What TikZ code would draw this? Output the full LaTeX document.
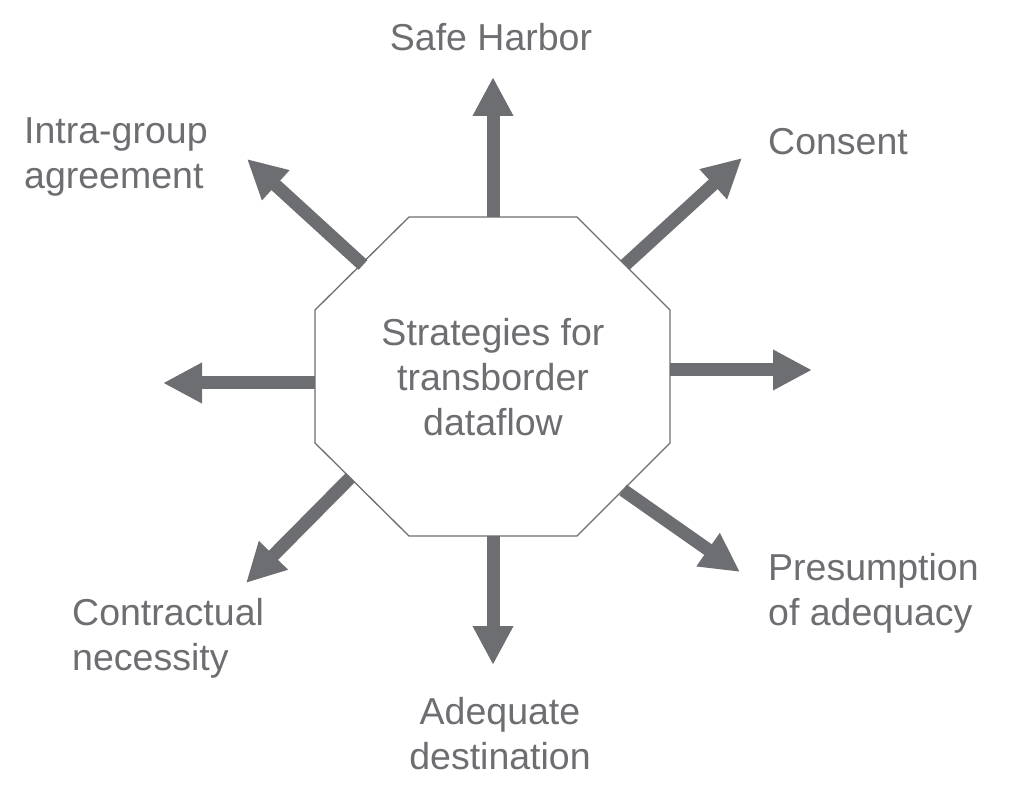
\documentclass[tikz,border=0pt]{standalone}
\usepackage{fontspec}
\setmainfont{Liberation Sans}
\usetikzlibrary{arrows.meta}
\definecolor{darkgrey}{HTML}{6D6E71}

\begin{document}
\begin{tikzpicture}[x=1pt,y=-1pt,
  every node/.style={inner sep=0pt,text=darkgrey,font=\fontsize{37.5}{45}\selectfont},
  flow/.style={darkgrey,line width=13pt,-{Triangle[length=39pt,width=38pt]}}]
\useasboundingbox (0,0) rectangle (1012,799);
% octagon
\coordinate (c1) at (409,217);
\coordinate (c2) at (577,217);
\coordinate (c3) at (670,310);
\coordinate (c4) at (670,443);
\coordinate (c5) at (577,536);
\coordinate (c6) at (409,536);
\coordinate (c7) at (315,443);
\coordinate (c8) at (315,310);
\draw [darkgrey,line width=1.3pt,fill=white] (c1) -- (c2) -- (c3) -- (c4) -- (c5) -- (c6) -- (c7) -- (c8) -- cycle;
\node [align=center] (mid) at (493,377) {Strategies for\\transborder\\dataflow};
% where the arrows leave the octagon
\coordinate (sN) at (493,217);
\coordinate (sNE) at (625,265);
\coordinate (sE) at (670,370);
\coordinate (sSE) at (623,490);
\coordinate (sS) at (493,536);
\coordinate (sSW) at (350,478);
\coordinate (sW) at (315,383);
\coordinate (sNW) at (363,265);
% arrow tips
\coordinate (tN) at (493,77);
\coordinate (tNE) at (742,158);
\coordinate (tE) at (812,370);
\coordinate (tSE) at (740,572);
\coordinate (tS) at (493,665);
\coordinate (tSW) at (246,583);
\coordinate (tW) at (163,383);
\coordinate (tNW) at (247,159);
\draw [flow] (sN) -- (tN);
\draw [flow] (sNE) -- (tNE);
\draw [flow] (sE) -- (tE);
\draw [flow] (sSE) -- (tSE);
\draw [flow] (sS) -- (tS);
\draw [flow] (sSW) -- (tSW);
\draw [flow] (sW) -- (tW);
\draw [flow] (sNW) -- (tNW);
% labels
\node (harbor) at (491,37) {Safe Harbor};
\node [anchor=west] (consent) at (768,142) {Consent};
\node [anchor=west,align=left] (presume) at (768,593) {Presumption\\of adequacy};
\node [align=center] (adequate) at (500,734) {Adequate\\destination};
\node [anchor=west,align=left] (contract) at (72,638) {Contractual\\necessity};
\node [anchor=west,align=left] (intra) at (24,157) {Intra-group\\agreement};
\end{tikzpicture}
\end{document}
